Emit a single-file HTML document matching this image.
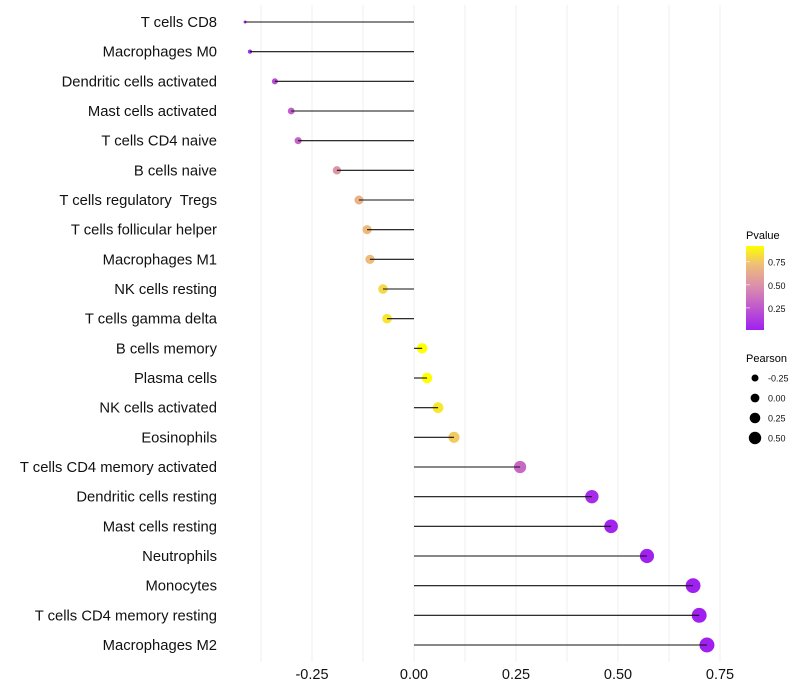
<!DOCTYPE html>
<html><head><meta charset="utf-8"><style>
body{margin:0;background:#fff;font-family:"Liberation Sans",sans-serif}
svg{display:block}
text{white-space:pre}
</style></head><body>
<svg id="chart" width="800" height="700" xmlns="http://www.w3.org/2000/svg">
<defs>
<linearGradient id="pg" x1="0" y1="1" x2="0" y2="0">
<stop offset="0" stop-color="#A020F0"/><stop offset="0.5" stop-color="#d98ab0"/><stop offset="0.78" stop-color="#efbe78"/><stop offset="1" stop-color="#ffff00"/>
</linearGradient>
</defs>
<g id="grid"></g>
<g id="marks"></g>
<g id="labels"></g>
<g id="xticks"></g>
<g>
<text x="746" y="239" font-size="11">Pvalue</text>
<rect x="746" y="246" width="18" height="84" fill="url(#pg)"/>
<g id="cbticks"></g>
</g>
<g id="sizeLegend">
<text x="746" y="362" font-size="11">Pearson</text>
</g>
</svg>
<script>
const categories=["T cells CD8","Macrophages M0","Dendritic cells activated","Mast cells activated","T cells CD4 naive","B cells naive","T cells regulatory  Tregs","T cells follicular helper","Macrophages M1","NK cells resting","T cells gamma delta","B cells memory","Plasma cells","NK cells activated","Eosinophils","T cells CD4 memory activated","Dendritic cells resting","Mast cells resting","Neutrophils","Monocytes","T cells CD4 memory resting","Macrophages M2"];
const pearson=[-0.414,-0.402,-0.341,-0.301,-0.284,-0.189,-0.135,-0.115,-0.108,-0.076,-0.066,0.020,0.032,0.059,0.098,0.260,0.436,0.483,0.571,0.684,0.699,0.718];
const pvalue=[0.04,0.06,0.2,0.28,0.3,0.52,0.66,0.7,0.71,0.8,0.84,0.93,0.92,0.85,0.76,0.32,0.06,0.03,0.02,0.01,0.01,0.01];
const xTicks=[-0.25,0,0.25,0.5,0.75];
const xTickLabels=["-0.25","0.00","0.25","0.50","0.75"];
const cbTicks=[0.25,0.5,0.75];
const cbTickLabels=["0.25","0.50","0.75"];
const sizeBreaks=[-0.25,0,0.25,0.5];
const sizeLabels=["-0.25","0.00","0.25","0.50"];
const NS="http://www.w3.org/2000/svg";
const x=v=>414+v*408;
const y=i=>22+i*(623/21);
const r=v=>1.5+6*Math.sqrt(Math.max(0,(v+0.414)/1.132));
const stops=[[0,[160,32,240]],[0.5,[217,138,176]],[0.78,[239,190,120]],[1,[255,255,0]]];
const pMin=0.01,pMax=0.92;
function col(p){let t=Math.max(0,Math.min(1,(p-pMin)/(pMax-pMin)));for(let k=1;k<stops.length;k++){if(t<=stops[k][0]){const a=stops[k-1],b=stops[k];const f=(t-a[0])/(b[0]-a[0]);const c=a[1].map((v,j)=>Math.round(v+(b[1][j]-v)*f));return `rgb(${c})`;}}return "rgb(255,255,0)";}
const cy=p=>330-(p-pMin)/(pMax-pMin)*84;
function mk(tag,at,parent){const e=document.createElementNS(NS,tag);for(const k in at)e.setAttribute(k,at[k]);document.getElementById(parent).appendChild(e);return e;}
for(let g=-0.375;g<=0.76;g+=0.125){const l=mk('line',{x1:x(g),x2:x(g),y1:5,y2:662,stroke:'#efefef','stroke-width':1},'grid');

}
xTicks.forEach((t,i)=>{const e=mk('text',{x:x(t),y:679,'font-size':14.5,'text-anchor':'middle',fill:'#111'},'xticks');e.textContent=xTickLabels[i];

});
categories.forEach((c,i)=>{
const e=mk('text',{x:217,y:y(i)+5,'font-size':14.8,'text-anchor':'end',fill:'#111'},'labels');e.textContent=c;


const p=mk('circle',{cx:x(pearson[i]),cy:y(i),r:r(pearson[i]),fill:col(pvalue[i])},'marks');


const l=mk('line',{x1:x(0),x2:x(pearson[i]),y1:y(i),y2:y(i),stroke:'#111','stroke-width':1.1},'marks');


});
cbTicks.forEach((t,i)=>{const e=mk('text',{x:768,y:cy(t)+4,'font-size':9,fill:'#111'},'cbticks');e.textContent=cbTickLabels[i];


const l=mk('line',{x1:746,x2:750,y1:cy(t),y2:cy(t),stroke:'#fff','stroke-opacity':0.6},'cbticks');

});
sizeBreaks.forEach((s,i)=>{const yy=378+i*20;
const c=mk('circle',{cx:755,cy:yy,r:3.5+i*0.9,fill:'#000'},'sizeLegend');


const e=mk('text',{x:768,y:yy+3.5,'font-size':9,fill:'#111'},'sizeLegend');e.textContent=sizeLabels[i];

});
</script>
</body></html>
